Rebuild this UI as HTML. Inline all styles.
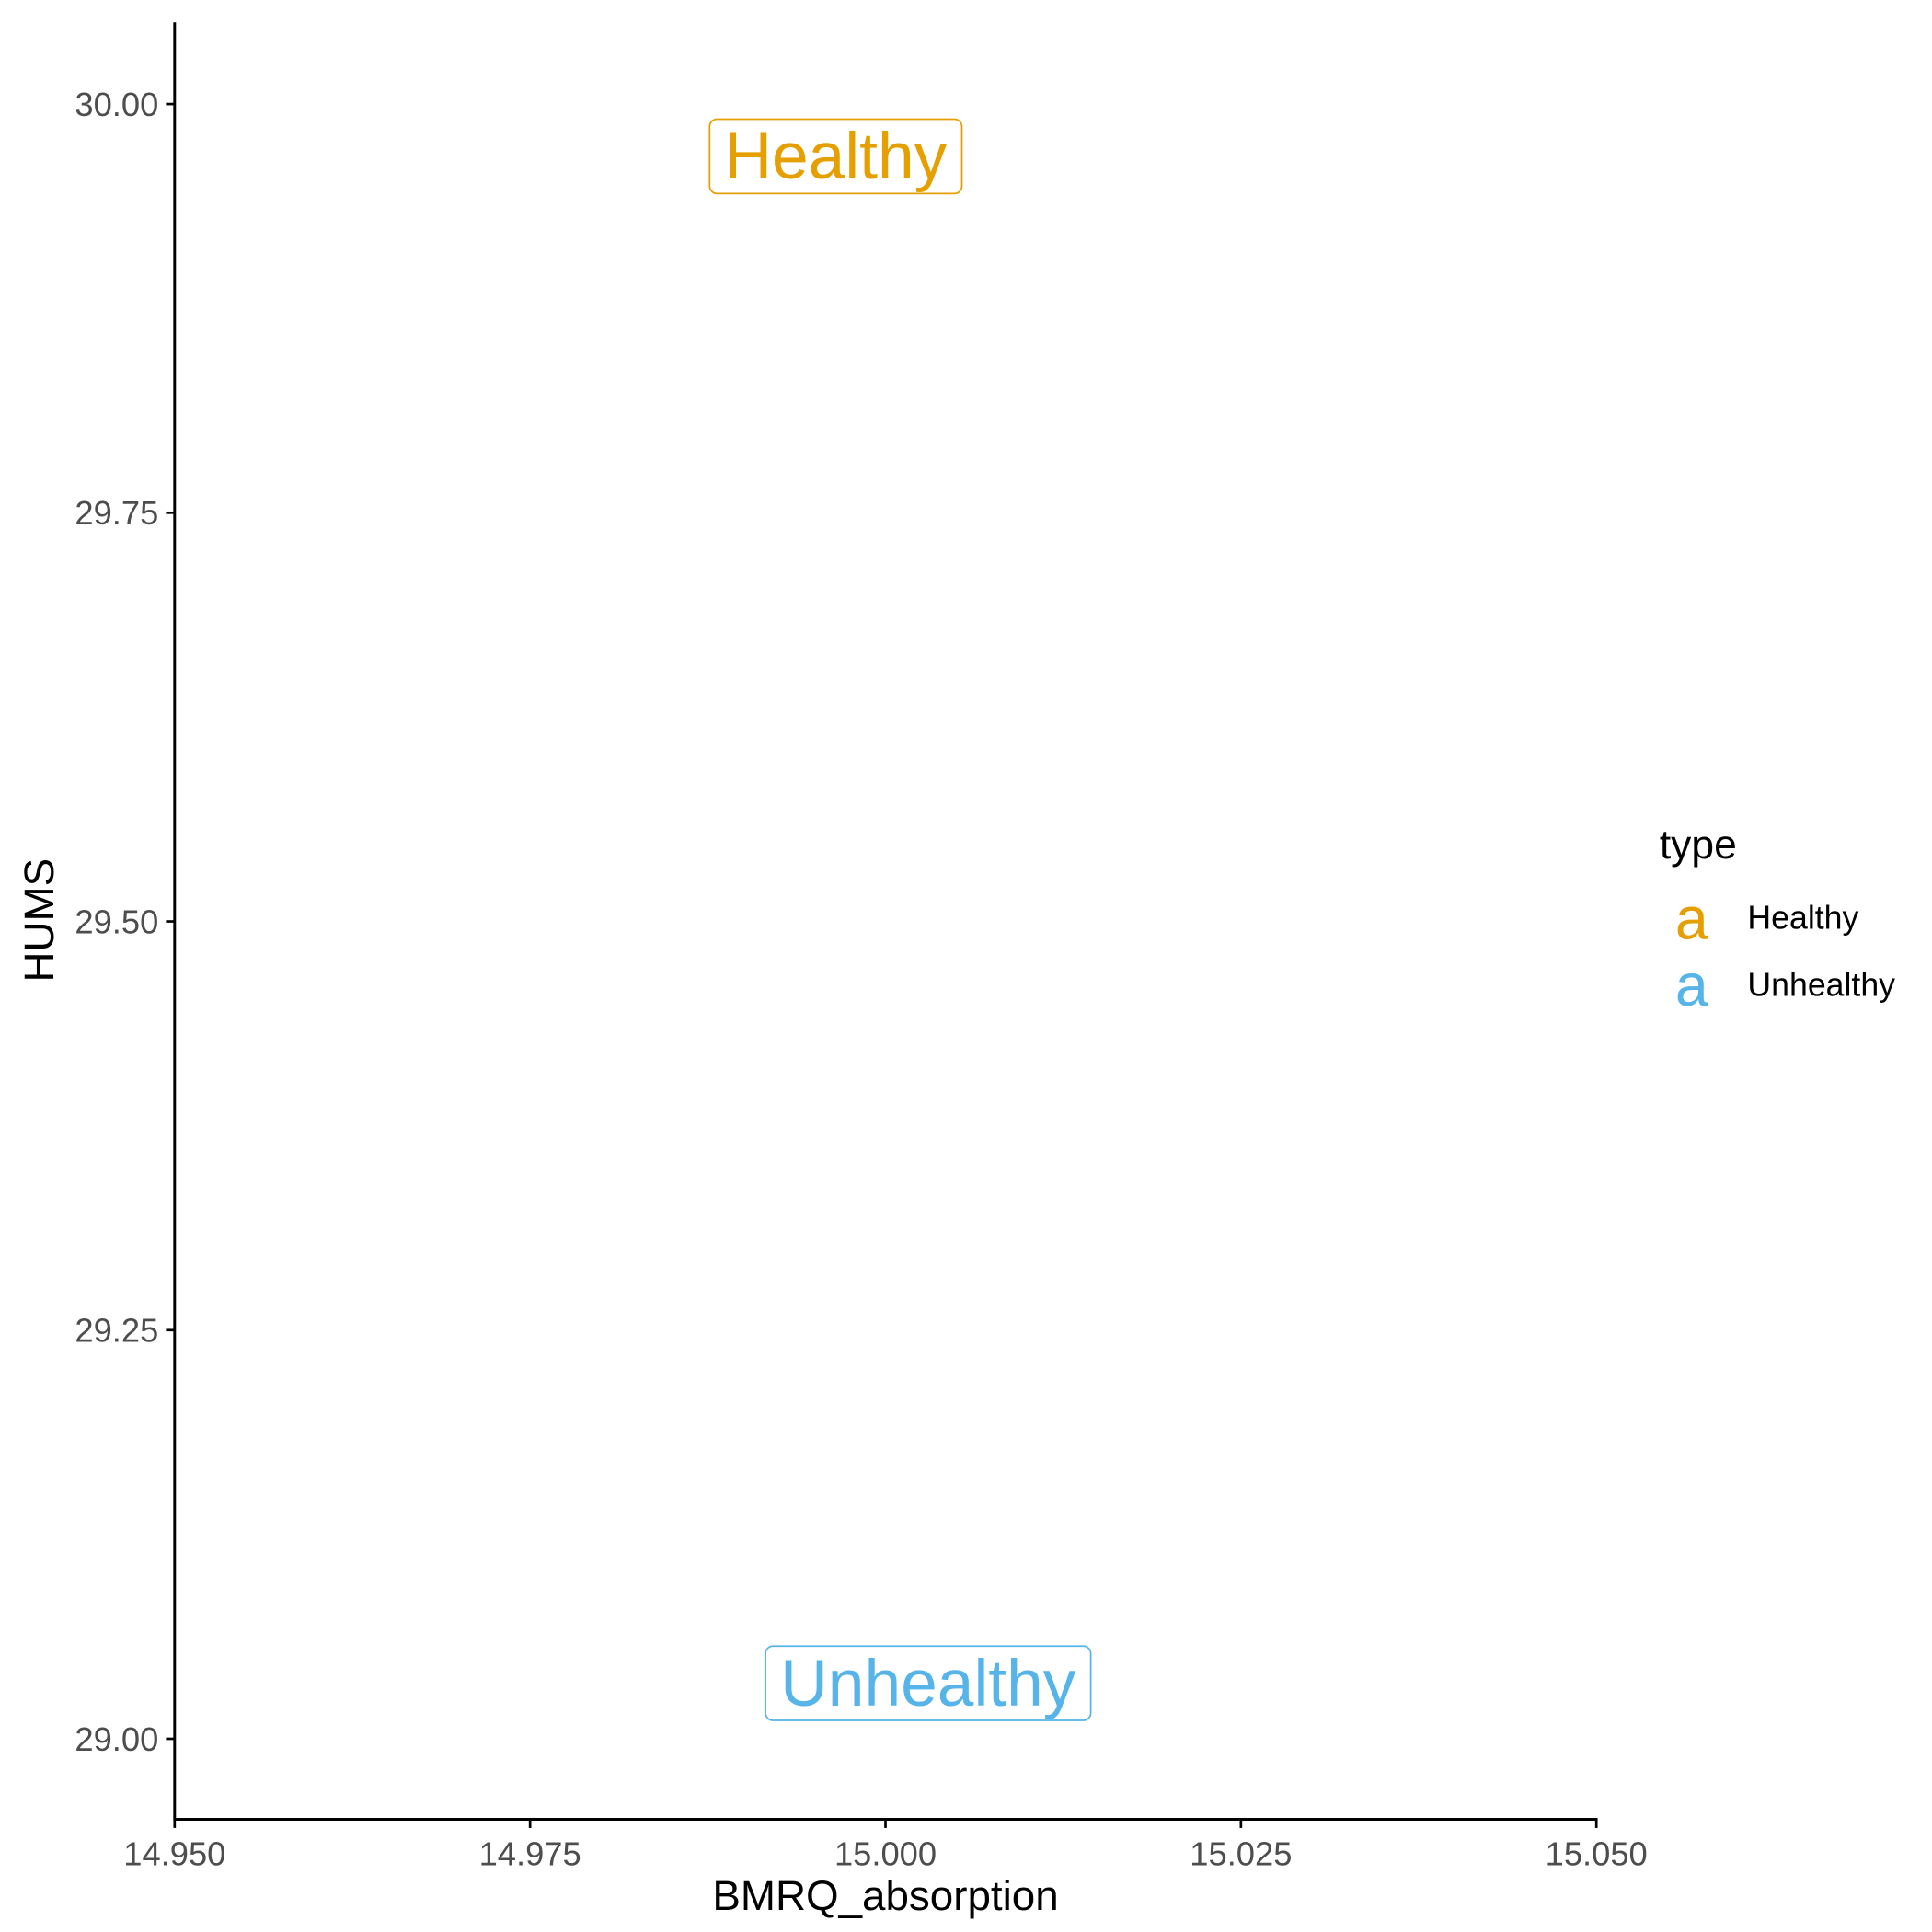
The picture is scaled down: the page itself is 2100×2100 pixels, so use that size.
<!DOCTYPE html>
<html><head><meta charset="utf-8"><style>
html,body{margin:0;padding:0;background:#fff}
svg{display:block;font-family:"Liberation Sans",sans-serif}
</style></head><body>
<svg id="chart" width="2100" height="2100" viewBox="0 0 1560 1560">
<rect width="1560" height="1560" fill="#fff"/>
<g id="plot"></g>
</svg>
<script>
const xTicks=[14.950,14.975,15.000,15.025,15.050];
const xTickLabels=["14.950","14.975","15.000","15.025","15.050"];
const yTicks=[29.00,29.25,29.50,29.75,30.00];
const yTickLabels=["29.00","29.25","29.50","29.75","30.00"];
const labelNames=["Healthy","Unhealthy"];
const labelX=[14.9965,15.003];
const labelY=[29.968,29.034];
const labelColors=["#E69F00","#56B4E9"];

const X0=141,X1=1289,Y0=1404,Y1=84;
const xs=v=>X0+(v-14.95)/0.1*(X1-X0);
const ys=v=>Y0+(v-29)/1*(Y1-Y0);
const NS="http://www.w3.org/2000/svg";
const g=document.getElementById('plot');
function mk(t,a,p){const e=document.createElementNS(NS,t);for(const k in a)e.setAttribute(k,a[k]);(p||g).appendChild(e);return e;}

const xl=mk('line',{x1:X0,x2:X1+1,y1:1469,y2:1469,stroke:'#000','stroke-width':2.2});


const yl=mk('line',{x1:X0,x2:X0,y1:18,y2:1470,stroke:'#000','stroke-width':2.2});



xTicks.forEach((v,i)=>{
  const x=xs(v);
  mk('line',{x1:x,x2:x,y1:1469,y2:1476,stroke:'#000','stroke-width':2});
  const t=mk('text',{x:x,y:1506,'text-anchor':'middle','font-size':27,fill:'#4d4d4d'});
  t.textContent=xTickLabels[i];
  
  
});
yTicks.forEach((v,i)=>{
  const y=ys(v);
  mk('line',{x1:134,x2:141,y1:y,y2:y,stroke:'#000','stroke-width':2});
  const t=mk('text',{x:128,y:y+9.5,'text-anchor':'end','font-size':27,fill:'#4d4d4d'});
  t.textContent=yTickLabels[i];
  
  
});

const xt=mk('text',{x:715,y:1542,'text-anchor':'middle','font-size':34});
xt.textContent='BMRQ_absorption';


const yt=mk('text',{x:0,y:0,'text-anchor':'middle','font-size':34,transform:'translate(43,743) rotate(-90)'});
yt.textContent='HUMS';



labelNames.forEach((n,i)=>{
  const cx=xs(labelX[i]),cy=ys(labelY[i]);
  const grp=mk('g',{});
  
  
  const r=mk('rect',{fill:'#fff',stroke:labelColors[i],'stroke-width':1.3,rx:6,ry:6},grp);
  const t=mk('text',{x:cx,y:cy+18,'text-anchor':'middle','font-size':53,fill:labelColors[i]},grp);
  t.textContent=n;
  const w=t.getComputedTextLength();
  r.setAttribute('x',cx-w/2-12);r.setAttribute('width',w+24);
  r.setAttribute('y',cy-30);r.setAttribute('height',60);
});

const lt=mk('text',{x:1340,y:693,'font-size':33});
lt.textContent='type';


labelNames.forEach((n,i)=>{
  const y=742+i*54;
  const lg=mk('g',{});
  
  
  const a=mk('text',{x:1366,y:y+16,'text-anchor':'middle','font-size':48,fill:labelColors[i]},lg);
  a.textContent='a';
  const l=mk('text',{x:1411,y:y+8,'font-size':26.5},lg);
  l.textContent=n;
});
</script>
</body></html>
